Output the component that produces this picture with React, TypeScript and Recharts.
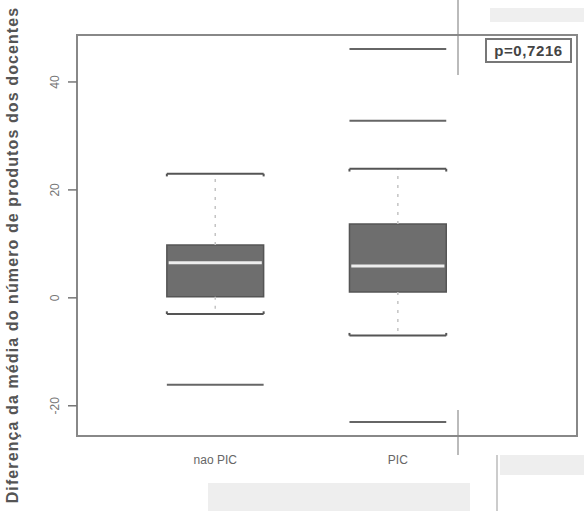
import React from 'react';
import {
  ComposedChart,
  XAxis,
  YAxis,
  Scatter,
  ReferenceArea,
  ReferenceLine,
} from 'recharts';

// ---- data ----
const categories = ['nao PIC', 'PIC'];
const positions = [1, 2];
const q1 = [0.2, 1.1];
const median = [6.5, 5.9];
const q3 = [9.8, 13.7];
const whiskerLow = [-3, -7];
const whiskerHigh = [23, 23.9];
const outliers = [[-16.1], [46.1, 32.8, -23]];
const yTicks = [-20, 0, 20, 40];
const yDomain = [-25.6, 48.7];
const xDomain = [0.243, 2.981];
const pValueText = 'p=0,7216';
const yTitle = 'Diferença da média do número de produtos dos docentes';

const rows = categories.map((c, i) => ({
  name: c,
  pos: positions[i],
  q1: q1[i],
  median: median[i],
  q3: q3[i],
  lo: whiskerLow[i],
  hi: whiskerHigh[i],
  out: outliers[i],
}));

const HALF = 0.265;
const FONT = '"Liberation Sans", Arial, sans-serif';

const YTick = (props: any) => {
  const { x, y, payload } = props;
  return (
    <text
      x={x}
      y={y}
      transform={`rotate(-90 ${x} ${y})`}
      textAnchor="middle"
      fontSize={12}
      fontFamily={FONT}
      fill="#777"
    >
      {payload.value}
    </text>
  );
};

const XTick = (props: any) => {
  const { x, y, payload } = props;
  const idx = positions.indexOf(payload.value);
  return (
    <text x={x} y={y} dy={10} textAnchor="middle" fontSize={12} fontFamily={FONT} fill="#666">
      {idx >= 0 ? categories[idx] : ''}
    </text>
  );
};

const YTitle = (props: any) => {
  const cx = 12;
  const cy = 255;
  return (
    <text
      x={cx}
      y={cy}
      transform={`rotate(-90 ${cx} ${cy})`}
      textAnchor="middle"
      dominantBaseline="central"
      fontSize={16}
      letterSpacing={1.1}
      fontWeight="bold"
      fontFamily={FONT}
      fill="#555"
    >
      {yTitle}
    </text>
  );
};

export default function App() {
  const elements: React.ReactNode[] = [];
  rows.forEach((r, i) => {
    const xl = r.pos - HALF;
    const xr = r.pos + HALF;
    // whiskers (dotted)
    elements.push(
      <ReferenceLine
        key={`wu${i}`}
        segment={[{ x: r.pos, y: r.q3 }, { x: r.pos, y: r.hi }]}
        stroke="#c4c4c4"
        strokeWidth={1.5}
        strokeDasharray="3 6"
      />,
      <ReferenceLine
        key={`wl${i}`}
        segment={[{ x: r.pos, y: r.q1 }, { x: r.pos, y: r.lo }]}
        stroke="#c4c4c4"
        strokeWidth={1.5}
        strokeDasharray="3 6"
      />
    );
    // box
    elements.push(
      <ReferenceArea
        key={`box${i}`}
        x1={xl}
        x2={xr}
        y1={r.q1}
        y2={r.q3}
        fill="#6e6e6e"
        fillOpacity={1}
        stroke="#555"
        strokeWidth={1.5}
      />
    );
    // median
    elements.push(
      <ReferenceLine
        key={`med${i}`}
        segment={[{ x: xl + 0.01, y: r.median }, { x: xr - 0.01, y: r.median }]}
        stroke="#eeeeee"
        strokeWidth={3}
      />
    );
    // caps
    [
      { v: r.hi, d: -0.5 },
      { v: r.lo, d: 0.5 },
    ].forEach((c, j) => {
      elements.push(
        <ReferenceLine
          key={`cap${i}-${j}`}
          segment={[{ x: xl, y: c.v }, { x: xr, y: c.v }]}
          stroke="#555"
          strokeWidth={2}
        />,
        <ReferenceLine
          key={`capl${i}-${j}`}
          segment={[{ x: xl, y: c.v }, { x: xl, y: c.v + c.d }]}
          stroke="#555"
          strokeWidth={2}
        />,
        <ReferenceLine
          key={`capr${i}-${j}`}
          segment={[{ x: xr, y: c.v }, { x: xr, y: c.v + c.d }]}
          stroke="#555"
          strokeWidth={2}
        />
      );
    });
    // outliers drawn as lines
    r.out.forEach((o, k) => {
      elements.push(
        <ReferenceLine
          key={`out${i}-${k}`}
          segment={[{ x: xl, y: o }, { x: xr, y: o }]}
          stroke="#666"
          strokeWidth={2}
        />
      );
    });
  });

  return (
    <div
      style={{
        position: 'absolute',
        left: 0,
        top: 0,
        width: 584,
        height: 511,
        background: '#fff',
        overflow: 'hidden',
      }}
    >
      {/* faint scan patches */}
      <div style={{ position: 'absolute', left: 490, top: 8, width: 94, height: 14, background: '#efefef' }} />
      <div style={{ position: 'absolute', left: 208, top: 483, width: 262, height: 28, background: '#eeeeee' }} />
      <div style={{ position: 'absolute', left: 500, top: 455, width: 84, height: 20, background: '#eeeeee' }} />
      <div style={{ position: 'absolute', left: 457, top: 0, width: 2, height: 75, background: '#bbb' }} />
      <div style={{ position: 'absolute', left: 457, top: 410, width: 2, height: 45, background: '#bbb' }} />
      <div style={{ position: 'absolute', left: 496, top: 455, width: 2, height: 56, background: '#ccc' }} />
      <div style={{ position: 'absolute', left: 0, top: 0 }}>
        <ComposedChart
          width={584}
          height={511}
          data={rows}
          margin={{ top: 35, right: 7, bottom: 0, left: 0 }}
        >
          <XAxis
            dataKey="pos"
            type="number"
            domain={xDomain}
            allowDataOverflow
            ticks={positions}
            tickLine={false}
            axisLine={false}
            height={75}
            tick={<XTick />}
            tickMargin={12}
          />
          <YAxis
            type="number"
            domain={yDomain}
            allowDataOverflow
            ticks={yTicks}
            width={77}
            tickSize={9}
            tickMargin={9}
            tickLine={{ stroke: '#777', strokeWidth: 1.5 }}
            axisLine={false}
            tick={<YTick />}
            label={<YTitle />}
          />
          <ReferenceArea
            x1={xDomain[0]}
            x2={xDomain[1]}
            y1={yDomain[0]}
            y2={yDomain[1]}
            fill="none"
            stroke="#888"
            strokeWidth={2}
            ifOverflow="visible"
          />
          {elements}
          <Scatter dataKey="median" isAnimationActive={false} shape={() => <g />} />
        </ComposedChart>
      </div>
      <div
        style={{
          position: 'absolute',
          left: 485,
          top: 38,
          width: 87,
          height: 25,
          boxSizing: 'border-box',
          border: '2px solid #777',
          background: '#fff',
          fontFamily: FONT,
          fontWeight: 'bold',
          fontSize: 15,
          letterSpacing: 0.6,
          color: '#444',
          display: 'flex',
          alignItems: 'center',
          justifyContent: 'center',
          whiteSpace: 'nowrap',
        }}
      >
        {pValueText}
      </div>
    </div>
  );
}
